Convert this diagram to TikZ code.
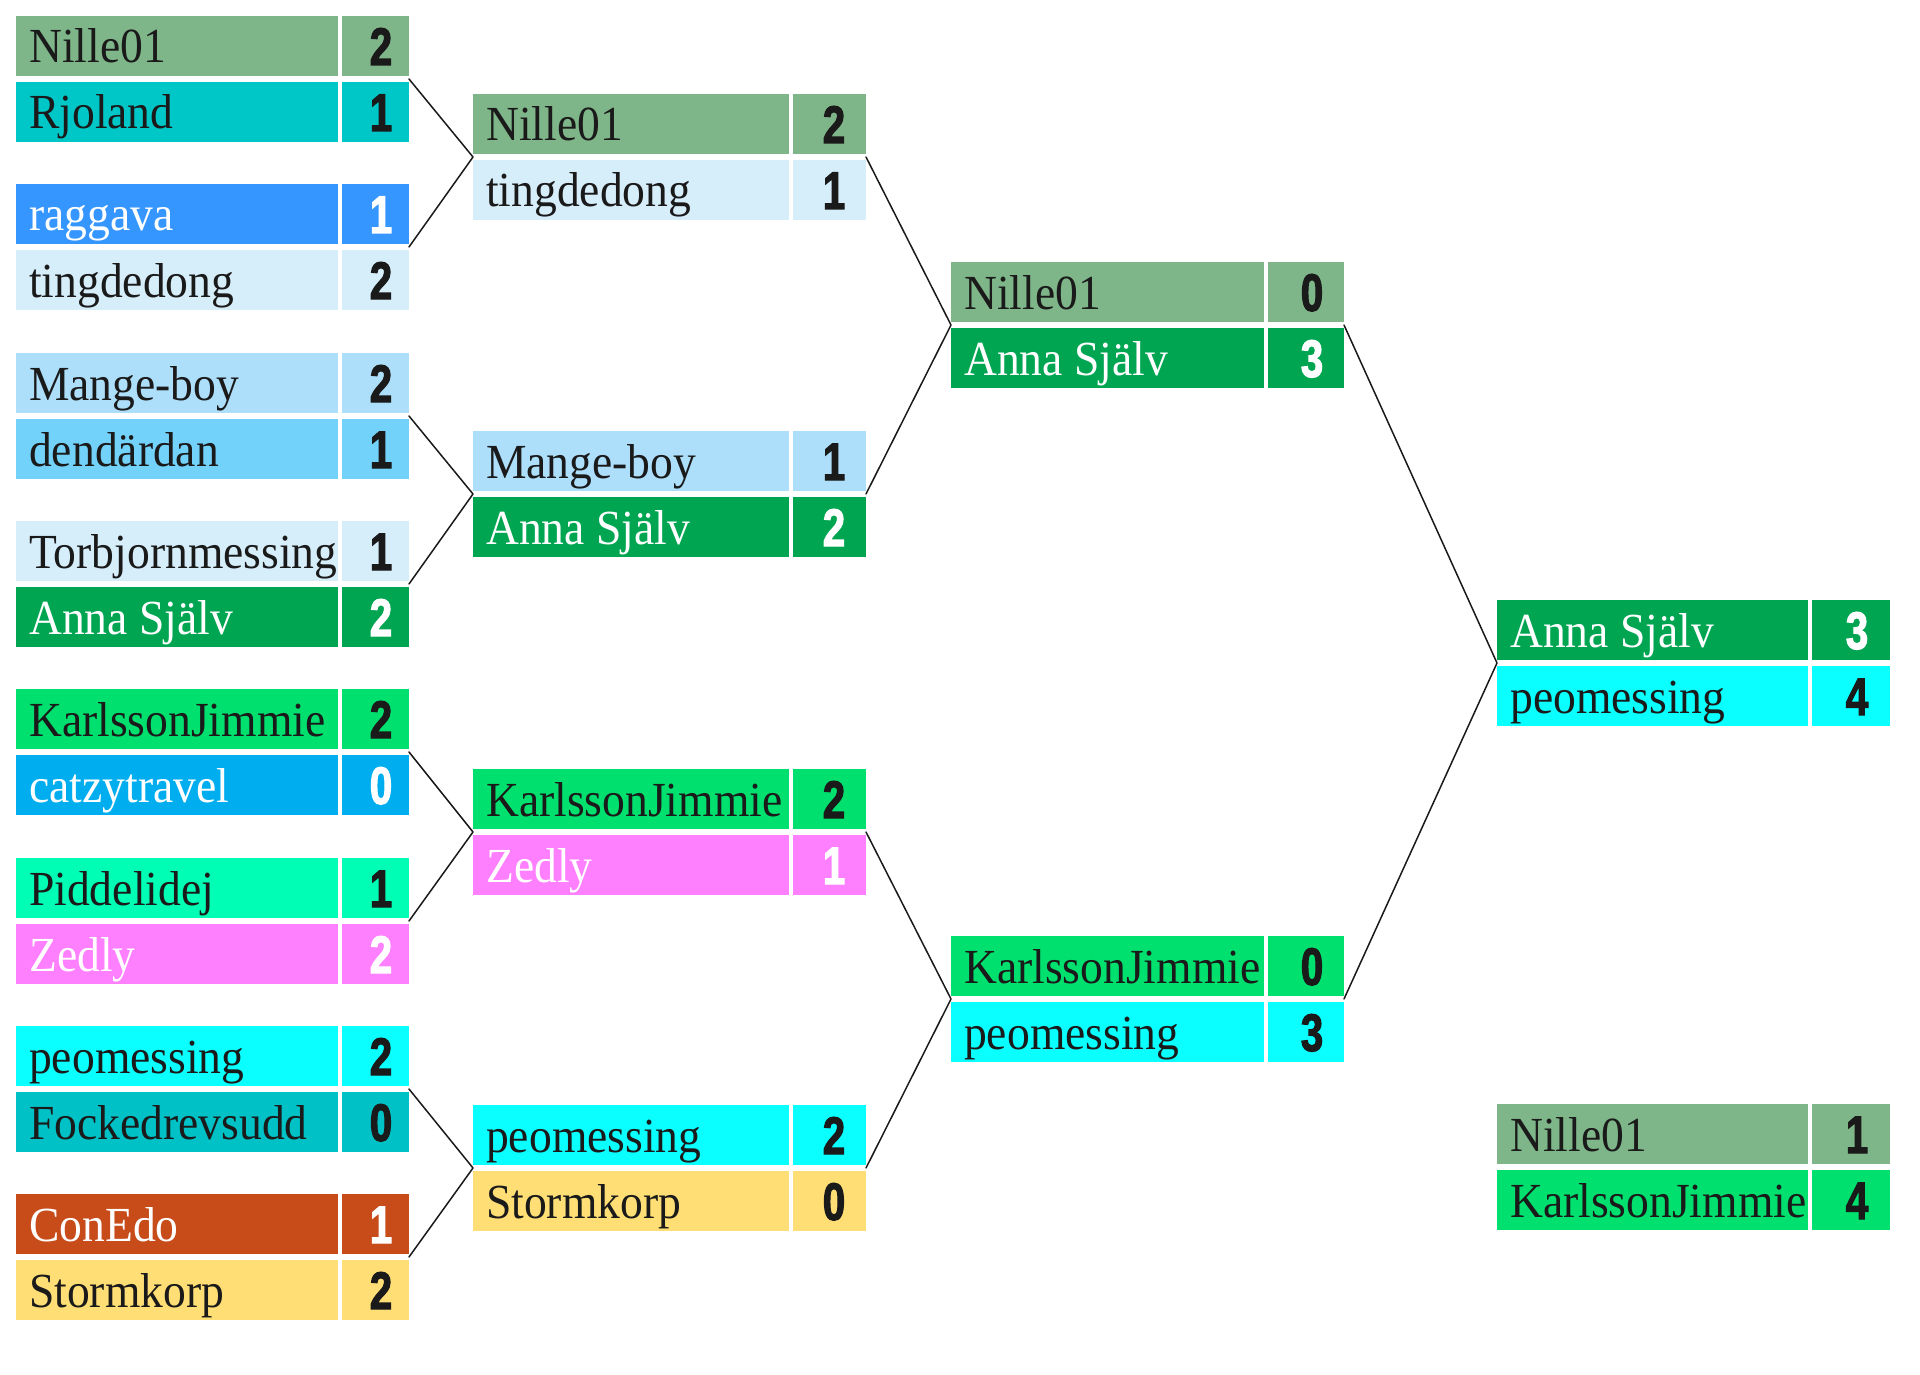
\documentclass[tikz,border=0pt]{standalone}
\usepackage{fontspec}
\setmainfont{Liberation Serif}
\newfontfamily\namefont{Liberation Serif}[FakeStretch=0.93]
\newfontfamily\scorefont{Liberation Sans Bold}[FakeStretch=0.76,FakeBold=2.0]

\definecolor{dk}{HTML}{1A1A1A}
\definecolor{cNille}{HTML}{7FB689}
\definecolor{cRjoland}{HTML}{00C7C7}
\definecolor{cRaggava}{HTML}{3696FF}
\definecolor{cTing}{HTML}{D6EDFA}
\definecolor{cMange}{HTML}{ADDEFA}
\definecolor{cDend}{HTML}{73D2FA}
\definecolor{cTorb}{HTML}{D6EDFA}
\definecolor{cAnna}{HTML}{00A551}
\definecolor{cKarl}{HTML}{00E06E}
\definecolor{cCatzy}{HTML}{00AEEF}
\definecolor{cPidd}{HTML}{00FFB4}
\definecolor{cZedly}{HTML}{FF80FF}
\definecolor{cPeo}{HTML}{0AFFFF}
\definecolor{cFocke}{HTML}{00C2C6}
\definecolor{cConEdo}{HTML}{C84C1A}
\definecolor{cStorm}{HTML}{FFDE75}

\tikzset{
  cell/.style={draw=none, rectangle, inner sep=0pt, minimum height=60pt, anchor=north west},
  nametxt/.style={anchor=base west, inner sep=0pt, font=\namefont\fontsize{49}{51}\selectfont},
  scoretxt/.style={anchor=base east, inner sep=0pt, font=\scorefont\fontsize{53}{55}\selectfont},
  link/.style={draw=dk, line width=1.5pt, line cap=round, line join=round}
}

\newcommand\setcol[4]{\def\cx{#1}\def\cnw{#2}\def\csw{#3}\def\cpad{#4}}
% id, top, fill, text colour, name, score
\newcommand\brow[6]{%
  \node[cell, fill=#3, minimum width=\cnw pt] (#1n) at (\cx pt, -#2pt) {};
  \node[cell, fill=#3, minimum width=\csw pt] (#1c) at (\cx pt+\cnw pt+4pt, -#2pt) {};
  \node[nametxt, text=#4] (#1t) at ([shift={(13pt,-47pt)}]#1n.north west) {#5};
  \node[scoretxt, text=#4] (#1s) at ([shift={(-\cpad pt,-49pt)}]#1c.north east) {#6};
}
\newcommand\mcoords[2]{%
  \coordinate (#1l) at (\cx pt, -#2pt-63pt);
  \coordinate (#1r) at (\cx pt+\cnw pt+4pt+\csw pt, -#2pt-63pt);
}

\begin{document}
\begin{tikzpicture}[x=1pt,y=1pt]
  \useasboundingbox (0,0) rectangle (1920,-1375);
  \fill[white] (0,0) rectangle (1920,-1375);

  % Round 1
  \setcol{16}{322}{67}{17}
  \brow{a1}{16}{cNille}{dk}{Nille01}{2}
  \brow{a2}{82}{cRjoland}{dk}{Rjoland}{1}
  \mcoords{A}{16}
  \brow{b1}{184}{cRaggava}{white}{raggava}{1}
  \brow{b2}{250}{cTing}{dk}{tingdedong}{2}
  \mcoords{B}{184}
  \brow{c1}{353}{cMange}{dk}{Mange-boy}{2}
  \brow{c2}{419}{cDend}{dk}{dendärdan}{1}
  \mcoords{C}{353}
  \brow{d1}{521}{cTorb}{dk}{Torbjornmessing}{1}
  \brow{d2}{587}{cAnna}{white}{Anna Själv}{2}
  \mcoords{D}{521}
  \brow{e1}{689}{cKarl}{dk}{KarlssonJimmie}{2}
  \brow{e2}{755}{cCatzy}{white}{catzytravel}{0}
  \mcoords{E}{689}
  \brow{f1}{858}{cPidd}{dk}{Piddelidej}{1}
  \brow{f2}{924}{cZedly}{white}{Zedly}{2}
  \mcoords{F}{858}
  \brow{g1}{1026}{cPeo}{dk}{peomessing}{2}
  \brow{g2}{1092}{cFocke}{dk}{Fockedrevsudd}{0}
  \mcoords{G}{1026}
  \brow{h1}{1194}{cConEdo}{white}{ConEdo}{1}
  \brow{h2}{1260}{cStorm}{dk}{Stormkorp}{2}
  \mcoords{H}{1194}

  % Round 2
  \setcol{473}{316}{73}{21}
  \brow{i1}{94}{cNille}{dk}{Nille01}{2}
  \brow{i2}{160}{cTing}{dk}{tingdedong}{1}
  \mcoords{I}{94}
  \brow{j1}{431}{cMange}{dk}{Mange-boy}{1}
  \brow{j2}{497}{cAnna}{white}{Anna Själv}{2}
  \mcoords{J}{431}
  \brow{k1}{769}{cKarl}{dk}{KarlssonJimmie}{2}
  \brow{k2}{835}{cZedly}{white}{Zedly}{1}
  \mcoords{K}{769}
  \brow{l1}{1105}{cPeo}{dk}{peomessing}{2}
  \brow{l2}{1171}{cStorm}{dk}{Stormkorp}{0}
  \mcoords{L}{1105}

  % Round 3
  \setcol{951}{313}{76}{21}
  \brow{m1}{262}{cNille}{dk}{Nille01}{0}
  \brow{m2}{328}{cAnna}{white}{Anna Själv}{3}
  \mcoords{M}{262}
  \brow{n1}{936}{cKarl}{dk}{KarlssonJimmie}{0}
  \brow{n2}{1002}{cPeo}{dk}{peomessing}{3}
  \mcoords{N}{936}

  % Final and third place
  \setcol{1497}{311}{78}{22}
  \brow{o1}{600}{cAnna}{white}{Anna Själv}{3}
  \brow{o2}{666}{cPeo}{dk}{peomessing}{4}
  \mcoords{O}{600}
  \brow{p1}{1104}{cNille}{dk}{Nille01}{1}
  \brow{p2}{1170}{cKarl}{dk}{KarlssonJimmie}{4}

  % Connectors
  \draw[link] (Ar) -- (Il) -- (Br);
  \draw[link] (Cr) -- (Jl) -- (Dr);
  \draw[link] (Er) -- (Kl) -- (Fr);
  \draw[link] (Gr) -- (Ll) -- (Hr);
  \draw[link] (Ir) -- (Ml) -- (Jr);
  \draw[link] (Kr) -- (Nl) -- (Lr);
  \draw[link] (Mr) -- (Ol) -- (Nr);
\end{tikzpicture}
\end{document}
